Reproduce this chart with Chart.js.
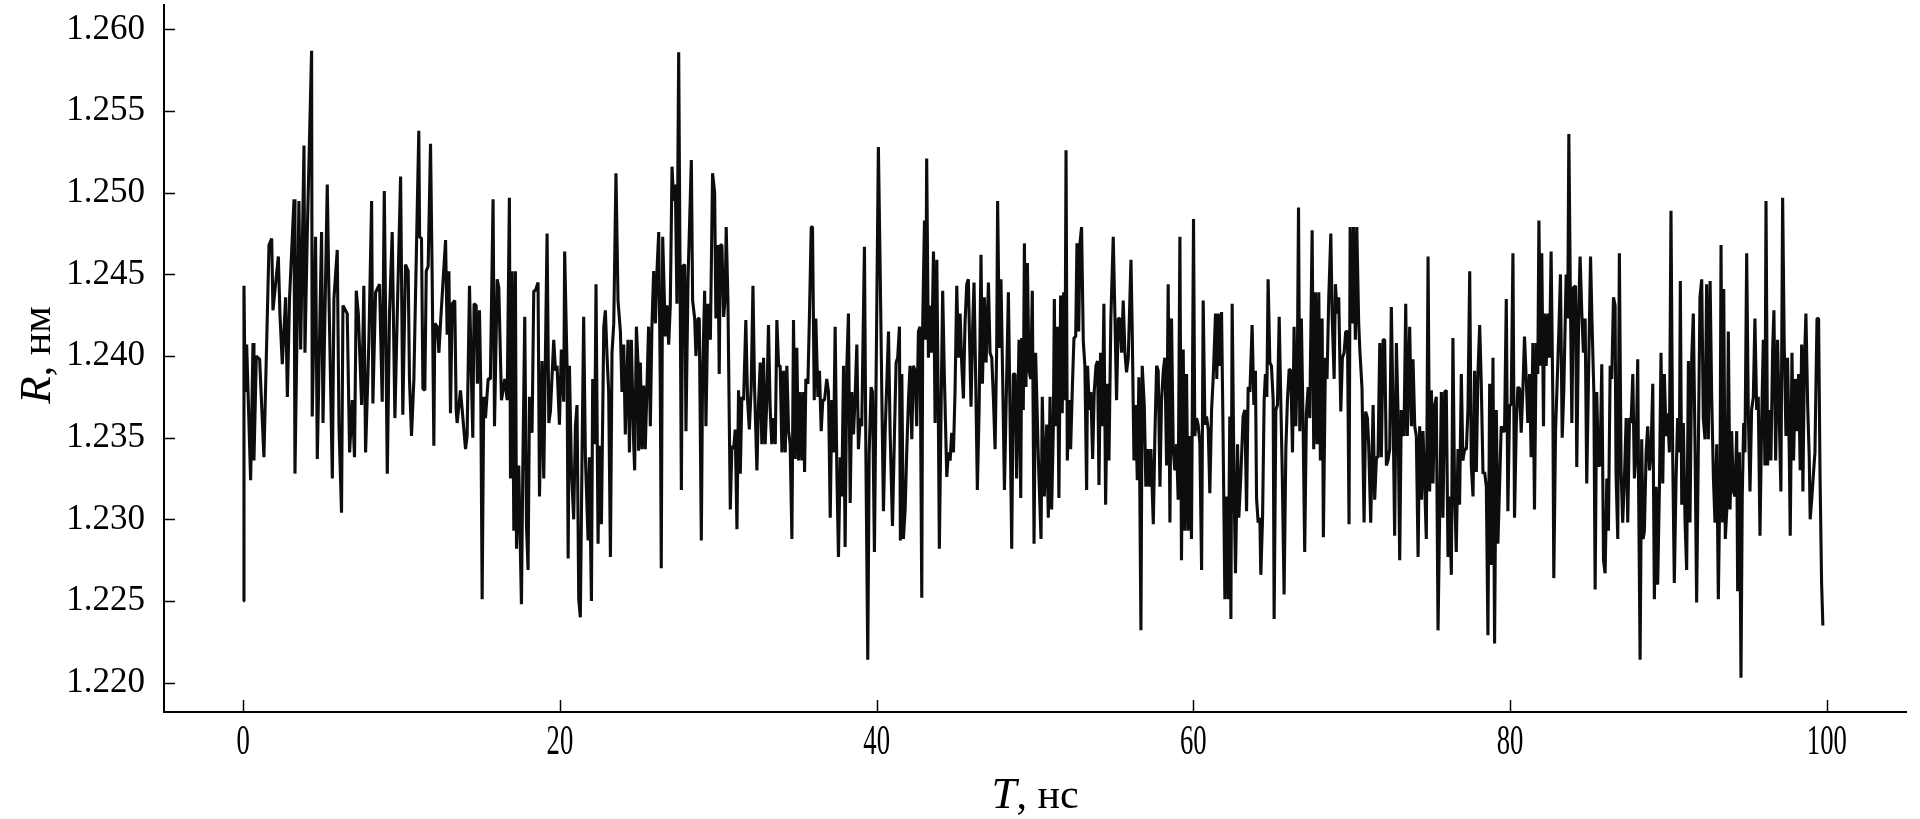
<!DOCTYPE html>
<html><head><meta charset="utf-8">
<script src="https://cdn.jsdelivr.net/npm/chart.js@4.4.1/dist/chart.umd.min.js"></script>
<style>html,body{margin:0;padding:0;background:#fff;}#wrap{width:1920px;height:819px;}</style>
</head><body><div id="wrap"><canvas id="c" width="1920" height="819"></canvas></div>
<script>
const timeNs = [
0.00,0.05,0.12,0.22,0.47,0.62,0.68,0.83,1.04,1.31,1.63,1.80,1.88,2.22,2.32,2.47,2.68,2.79,2.93,3.21,3.27,3.52,3.63,3.84,3.90,4.05,4.32,4.36,4.57,4.68,4.95,5.04,5.31,5.42,5.63,5.73,5.94,6.05,6.21,6.30,6.57,6.72,6.89,7.03,7.14,7.27,7.48,7.62,7.73,7.94,8.11,8.19,8.36,8.61,8.78,8.91,9.10,9.24,9.41,9.58,9.73,
9.94,10.08,10.25,10.42,10.50,10.63,10.78,10.88,11.09,11.14,11.26,11.35,11.47,11.56,11.68,11.83,11.93,12.04,12.10,12.25,12.36,12.46,12.61,12.78,12.88,12.99,13.09,13.20,13.36,13.45,13.51,13.72,13.83,14.04,14.14,14.29,14.42,14.50,14.58,14.71,14.79,14.92,15.00,15.09,15.19,15.30,15.47,15.61,15.78,15.87,16.04,16.14,16.31,16.52,16.67,16.81,16.88,16.98,17.09,17.19,17.26,17.40,17.57,17.66,17.78,17.89,17.99,18.08,18.24,18.35,18.45,18.62,18.71,18.87,18.98,19.08,19.19,19.30,19.40,19.61,19.72,
19.82,19.97,20.09,20.24,20.30,20.45,20.52,20.60,20.73,20.87,20.98,21.08,21.19,21.29,21.40,21.50,21.61,21.78,21.86,21.99,22.07,22.20,22.28,22.41,22.49,22.62,22.77,22.87,22.98,23.08,23.19,23.29,23.40,23.54,23.67,23.82,23.92,24.03,24.13,24.30,24.39,24.51,24.66,24.72,24.83,24.93,24.97,25.08,25.18,25.29,25.39,25.50,25.60,25.71,25.81,25.92,26.03,26.13,26.24,26.34,26.40,26.49,26.66,26.76,26.87,26.97,27.08,27.18,27.29,27.39,27.50,27.60,27.67,27.75,27.88,27.96,28.09,28.30,28.38,28.51,28.59,28.72,28.80,28.93,29.01,29.14,29.22,29.35,29.50,29.64,29.77,29.85,29.98,30.06,
30.13,30.23,30.34,30.44,30.50,30.61,30.69,30.76,30.86,30.97,31.07,31.18,31.28,31.39,31.49,31.60,31.74,31.85,31.96,32.08,32.19,32.29,32.44,32.54,32.65,32.75,32.86,32.96,33.07,33.17,33.28,33.38,33.49,33.60,33.70,33.81,33.91,34.02,34.12,34.23,34.33,34.44,34.54,34.65,34.75,34.86,34.96,35.07,35.17,35.28,35.38,35.45,35.53,35.66,35.76,35.87,35.95,36.06,36.16,36.29,36.39,36.50,36.60,36.71,36.85,36.96,37.07,37.17,37.28,37.38,37.49,37.59,37.70,37.80,37.91,38.01,38.12,38.22,38.33,38.43,38.54,38.64,38.75,38.85,38.96,39.06,39.23,39.32,39.44,39.53,39.65,39.74,39.86,39.95,40.11,
40.22,40.33,40.43,40.54,40.64,40.75,40.85,41.00,41.13,41.23,41.33,41.44,41.50,41.59,41.69,41.80,41.90,42.01,42.11,42.22,42.32,42.43,42.53,42.64,42.74,42.85,42.91,43.02,43.10,43.16,43.27,43.37,43.48,43.59,43.69,43.80,43.90,43.96,44.07,44.17,44.28,44.43,44.53,44.64,44.74,44.85,44.95,45.06,45.16,45.27,45.37,45.48,45.58,45.69,45.79,45.90,45.96,46.07,46.15,46.26,46.36,46.47,46.59,46.68,46.80,46.91,47.06,47.16,47.27,47.37,47.48,47.58,47.64,47.75,47.85,47.96,48.07,48.17,48.32,48.42,48.53,48.63,48.74,48.84,48.99,49.10,49.16,49.26,49.33,49.43,49.52,49.62,49.73,49.83,49.94,50.04,50.21,
50.38,50.46,50.59,50.74,50.84,50.95,51.05,51.16,51.22,51.30,51.41,51.51,51.62,51.72,51.81,51.89,51.96,52.04,52.15,52.25,52.36,52.46,52.57,52.65,52.76,52.84,52.94,53.05,53.15,53.26,53.32,53.43,53.53,53.64,53.74,53.85,53.95,54.04,54.14,54.25,54.35,54.46,54.56,54.67,54.79,54.94,55.05,55.15,55.26,55.36,55.47,55.57,55.68,55.78,55.89,56.06,56.14,56.25,56.35,56.46,56.56,56.69,56.77,56.90,57.00,57.11,57.21,57.32,57.47,57.57,57.68,57.78,57.89,57.99,58.10,58.20,58.31,58.41,58.52,58.62,58.73,58.83,58.94,59.04,59.15,59.25,59.36,59.46,59.57,59.67,59.78,59.88,60.01,60.09,
60.20,60.30,60.41,60.52,60.62,60.73,60.83,60.94,61.04,61.15,61.25,61.40,61.48,61.57,61.67,61.78,61.88,61.99,62.09,62.20,62.30,62.37,62.45,62.58,62.66,62.79,62.87,62.99,63.14,63.25,63.36,63.46,63.57,63.71,63.82,63.92,63.99,64.09,64.20,64.26,64.37,64.47,64.55,64.64,64.72,64.83,64.93,65.04,65.10,65.21,65.31,65.42,65.52,65.61,65.73,65.84,65.94,66.05,66.15,66.26,66.36,66.47,66.57,66.64,66.72,66.82,66.93,67.03,67.14,67.25,67.35,67.50,67.60,67.71,67.81,67.92,68.02,68.13,68.21,68.34,68.44,68.55,68.68,68.76,68.89,68.97,69.08,69.18,69.31,69.41,69.52,69.62,69.73,69.83,69.90,70.02,70.11,70.23,70.32,70.44,
70.51,70.65,70.78,70.88,70.99,71.07,71.20,71.35,71.45,71.56,71.66,71.77,71.87,71.98,72.08,72.19,72.29,72.40,72.50,72.61,72.71,72.82,72.92,73.03,73.13,73.30,73.41,73.51,73.66,73.77,73.87,73.98,74.08,74.19,74.29,74.40,74.50,74.61,74.71,74.82,74.92,75.03,75.13,75.24,75.34,75.45,75.55,75.66,75.76,75.87,75.97,76.08,76.18,76.29,76.39,76.50,76.60,76.71,76.81,76.92,77.02,77.13,77.24,77.34,77.45,77.55,77.66,77.76,77.87,77.97,78.08,78.18,78.29,78.39,78.50,78.60,78.71,78.81,78.92,79.02,79.13,79.23,79.34,79.44,79.55,79.65,79.76,79.86,79.97,80.07,80.18,80.28,80.39,80.49,
80.60,80.70,80.81,80.91,81.02,81.12,81.23,81.33,81.44,81.54,81.65,81.75,81.82,81.92,82.00,82.11,82.17,82.28,82.38,82.49,82.59,82.70,82.76,82.87,82.97,83.08,83.18,83.29,83.39,83.54,83.64,83.71,83.81,83.90,84.00,84.13,84.21,84.34,84.42,84.53,84.63,84.74,84.84,84.95,85.08,85.18,85.29,85.37,85.47,85.58,85.68,85.79,85.90,86.00,86.11,86.21,86.32,86.42,86.53,86.63,86.69,86.80,86.90,87.01,87.11,87.22,87.33,87.43,87.54,87.64,87.75,87.85,87.96,88.06,88.12,88.21,88.31,88.40,88.48,88.59,88.69,88.80,88.90,89.01,89.11,89.22,89.32,89.43,89.53,89.64,89.74,89.85,89.95,90.06,90.16,90.27,90.37,90.48,90.58,90.69,90.75,90.84,90.94,91.05,91.15,91.26,91.36,91.47,91.57,91.68,91.78,91.89,91.99,92.10,92.20,92.31,92.41,92.52,92.63,92.73,92.84,92.94,93.05,93.15,93.26,93.32,93.42,93.49,93.59,93.70,93.78,93.89,93.99,94.10,94.20,94.31,94.37,94.48,94.58,94.66,94.75,94.83,94.94,95.04,95.15,95.25,95.36,95.46,95.57,95.67,95.78,95.88,95.99,96.09,96.16,96.26,96.37,96.47,96.58,96.66,96.77,96.89,97.00,97.10,97.21,97.31,97.42,97.52,97.63,97.69,97.80,97.90,98.01,98.11,98.22,98.32,98.41,98.49,98.58,98.68,98.79,98.89,98.95,99.06,99.17,99.25,99.38,99.48,99.57,99.67,99.75
];
const radiusNm = [
1.2250,1.2443,1.2378,1.2407,1.2324,1.2408,1.2336,1.2400,1.2398,1.2338,1.2468,1.2472,1.2428,1.2461,1.2426,1.2395,1.2436,1.2375,1.2436,1.2496,1.2328,1.2495,1.2404,1.2529,1.2402,1.2476,1.2587,1.2363,1.2473,1.2337,1.2476,1.2359,1.2505,1.2435,1.2325,1.2435,1.2465,1.2357,1.2304,1.2431,1.2426,1.2341,1.2373,1.2338,1.2440,1.2426,1.2370,1.2443,1.2341,1.2410,1.2495,1.2371,1.2439,1.2444,1.2372,1.2501,1.2328,1.2426,1.2476,1.2362,1.2426,
1.2510,1.2364,1.2456,1.2452,1.2386,1.2351,1.2386,1.2436,1.2538,1.2473,1.2472,1.2380,1.2379,1.2452,1.2455,1.2530,1.2452,1.2345,1.2420,1.2418,1.2402,1.2420,1.2444,1.2471,1.2413,1.2452,1.2365,1.2432,1.2434,1.2367,1.2359,1.2379,1.2367,1.2343,1.2351,1.2443,1.2383,1.2350,1.2432,1.2431,1.2383,1.2428,1.2383,1.2251,1.2375,1.2362,1.2386,1.2386,1.2496,1.2357,1.2447,1.2442,1.2373,1.2386,1.2373,1.2497,1.2325,1.2452,1.2293,1.2452,1.2282,1.2333,1.2248,1.2333,1.2424,1.2296,1.2269,1.2375,1.2353,1.2440,1.2440,1.2445,1.2314,1.2397,1.2325,1.2397,1.2475,1.2359,1.2366,1.2410,1.2391,
1.2394,1.2358,1.2404,1.2372,1.2464,1.2394,1.2276,1.2394,1.2330,1.2300,1.2357,1.2370,1.2251,1.2240,1.2341,1.2424,1.2338,1.2287,1.2338,1.2250,1.2386,1.2346,1.2444,1.2285,1.2345,1.2297,1.2418,1.2428,1.2399,1.2378,1.2277,1.2402,1.2420,1.2512,1.2434,1.2415,1.2378,1.2407,1.2352,1.2410,1.2341,1.2410,1.2346,1.2330,1.2418,1.2396,1.2342,1.2396,1.2343,1.2382,1.2343,1.2382,1.2418,1.2357,1.2418,1.2452,1.2420,1.2452,1.2476,1.2381,1.2270,1.2473,1.2412,1.2431,1.2407,1.2431,1.2516,1.2495,1.2505,1.2432,1.2586,1.2431,1.2318,1.2455,1.2456,1.2354,1.2447,1.2520,1.2434,1.2423,1.2400,1.2423,1.2423,1.2287,1.2389,1.2440,1.2357,1.2432,1.2410,1.2512,1.2500,1.2423,1.2468,1.2389,
1.2468,1.2468,1.2424,1.2436,1.2479,1.2434,1.2365,1.2306,1.2345,1.2343,1.2355,1.2294,1.2379,1.2328,1.2375,1.2373,1.2422,1.2373,1.2355,1.2381,1.2443,1.2381,1.2330,1.2370,1.2396,1.2346,1.2399,1.2346,1.2373,1.2419,1.2367,1.2346,1.2362,1.2346,1.2422,1.2394,1.2394,1.2341,1.2391,1.2341,1.2394,1.2354,1.2346,1.2288,1.2422,1.2337,1.2405,1.2336,1.2378,1.2336,1.2378,1.2329,1.2386,1.2383,1.2426,1.2479,1.2479,1.2373,1.2423,1.2375,1.2391,1.2354,1.2373,1.2373,1.2386,1.2378,1.2301,1.2373,1.2341,1.2418,1.2328,1.2277,1.2338,1.2314,1.2394,1.2283,1.2394,1.2426,1.2310,1.2378,1.2352,1.2375,1.2407,1.2343,1.2362,1.2357,1.2467,1.2341,1.2214,1.2341,1.2381,1.2378,1.2280,1.2370,1.2528,
1.2455,1.2375,1.2305,1.2354,1.2383,1.2415,1.2354,1.2296,1.2354,1.2396,1.2399,1.2418,1.2287,1.2389,1.2288,1.2306,1.2341,1.2373,1.2394,1.2349,1.2394,1.2391,1.2357,1.2415,1.2418,1.2252,1.2420,1.2483,1.2410,1.2521,1.2399,1.2431,1.2402,1.2464,1.2359,1.2459,1.2359,1.2282,1.2367,1.2440,1.2386,1.2326,1.2341,1.2336,1.2353,1.2341,1.2378,1.2443,1.2399,1.2426,1.2396,1.2374,1.2420,1.2444,1.2447,1.2396,1.2369,1.2420,1.2445,1.2383,1.2318,1.2367,1.2462,1.2383,1.2436,1.2396,1.2445,1.2402,1.2399,1.2375,1.2343,1.2405,1.2495,1.2405,1.2447,1.2386,1.2318,1.2367,1.2439,1.2367,1.2282,1.2389,1.2389,1.2325,1.2410,1.2313,1.2411,1.2367,1.2469,1.2381,1.2457,1.2391,1.2386,1.2440,1.2285,1.2402,1.2338,
1.2288,1.2375,1.2314,1.2358,1.2301,1.2375,1.2306,1.2357,1.2435,1.2357,1.2418,1.2313,1.2437,1.2365,1.2439,1.2373,1.2526,1.2336,1.2373,1.2343,1.2381,1.2411,1.2412,1.2469,1.2415,1.2469,1.2479,1.2409,1.2394,1.2318,1.2394,1.2367,1.2378,1.2337,1.2378,1.2394,1.2397,1.2321,1.2402,1.2357,1.2432,1.2309,1.2383,1.2336,1.2423,1.2473,1.2423,1.2373,1.2423,1.2423,1.2402,1.2434,1.2402,1.2390,1.2399,1.2459,1.2415,1.2336,1.2370,1.2324,1.2387,1.2232,1.2394,1.2370,1.2320,1.2343,1.2320,1.2343,1.2297,1.2351,1.2394,1.2391,1.2320,1.2373,1.2391,1.2399,1.2333,1.2444,1.2298,1.2423,1.2343,1.2330,1.2346,1.2312,1.2473,1.2275,1.2404,1.2293,1.2389,1.2293,1.2351,1.2288,1.2484,1.2351,
1.2362,1.2358,1.2347,1.2269,1.2434,1.2358,1.2363,1.2355,1.2316,1.2367,1.2386,1.2426,1.2386,1.2426,1.2394,1.2427,1.2349,1.2251,1.2314,1.2251,1.2363,1.2239,1.2432,1.2314,1.2267,1.2346,1.2301,1.2325,1.2363,1.2367,1.2305,1.2381,1.2378,1.2419,1.2370,1.2391,1.2313,1.2298,1.2301,1.2266,1.2301,1.2373,1.2389,1.2375,1.2447,1.2396,1.2394,1.2373,1.2239,1.2367,1.2370,1.2424,1.2373,1.2330,1.2254,1.2343,1.2373,1.2392,1.2391,1.2341,1.2418,1.2357,1.2399,1.2491,1.2354,1.2423,1.2357,1.2280,1.2365,1.2381,1.2362,1.2477,1.2343,1.2439,1.2346,1.2439,1.2336,1.2423,1.2289,1.2399,1.2386,1.2436,1.2475,1.2426,1.2386,1.2444,1.2426,1.2436,1.2366,1.2399,1.2402,1.2415,1.2415,1.2297,1.2479,1.2420,1.2479,1.2410,1.2479,1.2420,
1.2404,1.2380,1.2298,1.2366,1.2362,1.2346,1.2298,1.2370,1.2312,1.2338,1.2338,1.2408,1.2338,1.2410,1.2410,1.2333,1.2336,1.2343,1.2430,1.2367,1.2290,1.2408,1.2367,1.2275,1.2367,1.2351,1.2432,1.2351,1.2418,1.2357,1.2398,1.2357,1.2351,1.2277,1.2357,1.2312,1.2354,1.2320,1.2288,1.2461,1.2317,1.2379,1.2322,1.2370,1.2375,1.2232,1.2301,1.2378,1.2301,1.2378,1.2379,1.2277,1.2314,1.2266,1.2411,1.2314,1.2280,1.2343,1.2309,1.2389,1.2336,1.2343,1.2343,1.2367,1.2452,1.2333,1.2314,1.2391,1.2329,1.2389,1.2419,1.2383,1.2328,1.2329,1.2320,1.2229,1.2383,1.2272,1.2399,1.2224,1.2367,1.2285,1.2322,1.2357,1.2354,1.2354,1.2435,1.2305,1.2370,1.2370,1.2463,1.2301,1.2357,1.2381,
1.2380,1.2353,1.2380,1.2412,1.2386,1.2359,1.2389,1.2338,1.2408,1.2306,1.2408,1.2389,1.2483,1.2394,1.2463,1.2357,1.2426,1.2394,1.2426,1.2399,1.2464,1.2373,1.2264,1.2354,1.2383,1.2416,1.2450,1.2350,1.2378,1.2450,1.2423,1.2536,1.2434,1.2359,1.2442,1.2443,1.2332,1.2431,1.2461,1.2426,1.2402,1.2423,1.2322,1.2386,1.2461,1.2418,1.2378,1.2257,1.2378,1.2333,1.2333,1.2395,1.2275,1.2267,1.2325,1.2293,1.2394,1.2386,1.2436,1.2431,1.2328,1.2288,1.2463,1.2330,1.2298,1.2325,1.2362,1.2298,1.2362,1.2359,1.2389,1.2325,1.2341,1.2398,1.2314,1.2214,1.2349,1.2288,1.2293,1.2341,1.2357,1.2330,1.2341,1.2383,1.2251,1.2320,1.2260,1.2320,1.2402,1.2322,1.2389,1.2351,1.2365,1.2341,1.2489,1.2338,1.2261,1.2325,1.2362,1.2341,1.2446,1.2309,1.2359,1.2298,1.2269,1.2397,1.2298,1.2399,1.2426,1.2343,1.2249,1.2346,1.2436,1.2447,1.2362,1.2349,1.2444,1.2349,1.2446,1.2375,1.2325,1.2298,1.2346,1.2251,1.2330,1.2468,1.2298,1.2441,1.2288,1.2309,1.2415,1.2306,1.2354,1.2317,1.2314,1.2354,1.2256,1.2341,1.2203,1.2314,1.2359,1.2341,1.2463,1.2367,1.2317,1.2367,1.2375,1.2423,1.2367,1.2375,1.2290,1.2357,1.2410,1.2333,1.2495,1.2333,1.2367,1.2336,1.2404,1.2428,1.2336,1.2410,1.2362,1.2317,1.2497,1.2407,1.2351,1.2399,1.2341,1.2290,1.2402,1.2336,1.2386,1.2354,1.2389,1.2330,1.2407,1.2317,1.2394,1.2426,1.2370,1.2338,1.2300,1.2314,1.2330,1.2341,1.2423,1.2423,1.2328,1.2261,1.2235
];
const xTickValues = [0, 20, 40, 60, 80, 100];
const yTickValues = [1.220, 1.225, 1.230, 1.235, 1.240, 1.245, 1.250, 1.255, 1.260];
const xTitleParts = ['T', ', нс'];
const yTitleParts = ['R', ', нм'];

const points = timeNs.map((t, i) => ({ x: t, y: radiusNm[i] }));
const SERIF = '"Liberation Serif", "Times New Roman", serif';

const decorations = {
  id: 'decorations',
  afterDraw(chart) {
    const { ctx, chartArea: a, scales: { x, y } } = chart;
    ctx.save();
    ctx.strokeStyle = '#000';
    ctx.lineWidth = 1.5;
    xTickValues.forEach(v => {
      const px = Math.round(x.getPixelForValue(v)) + 0.5;
      ctx.beginPath(); ctx.moveTo(px, a.bottom); ctx.lineTo(px, a.bottom - 12); ctx.stroke();
    });
    yTickValues.forEach(v => {
      const py = Math.round(y.getPixelForValue(v)) + 0.5;
      ctx.beginPath(); ctx.moveTo(a.left, py); ctx.lineTo(a.left + 11, py); ctx.stroke();
    });
    ctx.fillStyle = '#000';
    ctx.font = '43px ' + SERIF;
    ctx.textAlign = 'center';
    ctx.textBaseline = 'alphabetic';
    xTickValues.forEach(v => {
      const px = x.getPixelForValue(v);
      ctx.save();
      ctx.translate(px, a.bottom + 42);
      ctx.scale(0.62, 1);
      ctx.fillText(String(v), 0, 0);
      ctx.restore();
    });
    ctx.textAlign = 'left';
    const fI = 'italic 45px ' + SERIF, fR = '42px ' + SERIF;
    ctx.font = fI; const w1 = ctx.measureText(xTitleParts[0]).width;
    ctx.font = fR; const w2 = ctx.measureText(xTitleParts[1]).width;
    const cx = (a.left + a.right) / 2;
    const sx = cx - (w1 + w2) / 2;
    ctx.font = fI; ctx.fillText(xTitleParts[0], sx, 808);
    ctx.font = fR; ctx.fillText(xTitleParts[1], sx + w1, 808);
    ctx.font = fI; const v1 = ctx.measureText(yTitleParts[0]).width;
    ctx.font = fR; const v2 = ctx.measureText(yTitleParts[1]).width;
    ctx.save();
    ctx.translate(50, 355 + (v1 + v2) / 2);
    ctx.rotate(-Math.PI / 2);
    ctx.font = fI; ctx.fillText(yTitleParts[0], 0, 0);
    ctx.font = fR; ctx.fillText(yTitleParts[1], v1, 0);
    ctx.restore();
    ctx.restore();
  }
};

new Chart(document.getElementById('c'), {
  type: 'scatter',
  data: { datasets: [{
    data: points, showLine: true, borderColor: '#0d0d0d', borderWidth: 3.1,
    pointRadius: 0, pointHoverRadius: 0, borderJoinStyle: 'bevel', tension: 0, fill: false
  }] },
  options: {
    responsive: false, animation: false, devicePixelRatio: 1,
    layout: { padding: { left: 0, right: 14, top: 5, bottom: 0 } },
    plugins: { legend: { display: false }, tooltip: { enabled: false } },
    scales: {
      x: {
        type: 'linear', min: -5, max: 105,
        afterBuildTicks: s => { s.ticks = xTickValues.map(v => ({ value: v })); },
        grid: { display: false, drawTicks: false },
        border: { display: true, color: '#000', width: 2 },
        ticks: { display: false },
        afterFit: s => { s.height = 107; s.paddingLeft = 0; s.paddingRight = 0; s.paddingTop = 0; s.paddingBottom = 0; }
      },
      y: {
        type: 'linear', min: 1.2182, max: 1.2615,
        afterBuildTicks: s => { s.ticks = yTickValues.map(v => ({ value: v })); },
        grid: { display: false, drawTicks: false },
        border: { display: true, color: '#000', width: 2 },
        ticks: { color: '#000', padding: 19, font: { family: SERIF, size: 35 }, callback: v => Number(v).toFixed(3) },
        afterFit: s => { s.width = 164; s.paddingTop = 0; s.paddingBottom = 0; s.paddingLeft = 0; s.paddingRight = 0; }
      }
    }
  },
  plugins: [decorations]
});
</script>
</body></html>
